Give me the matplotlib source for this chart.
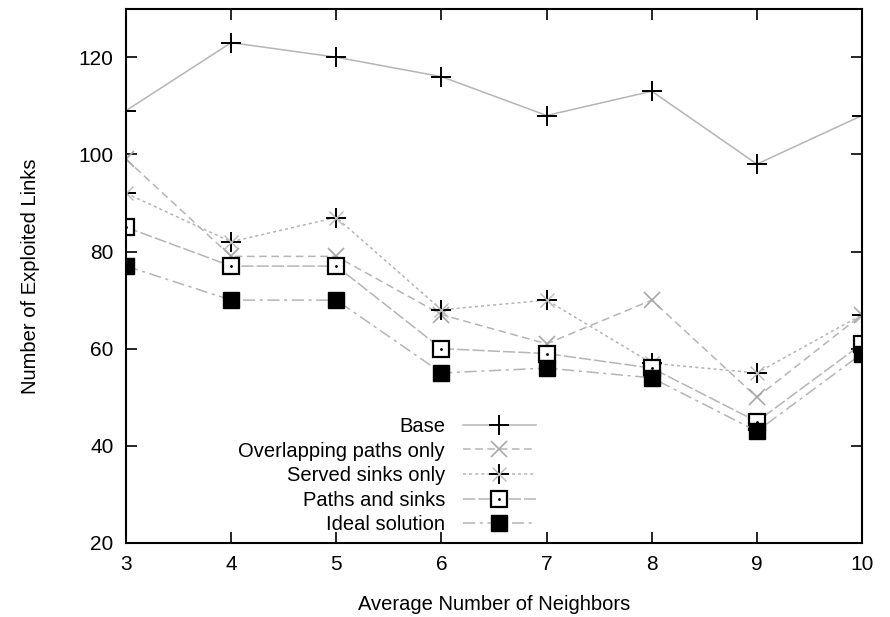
import matplotlib
matplotlib.use('Agg')
import matplotlib.pyplot as plt
from matplotlib.legend_handler import HandlerTuple

plt.rcParams['font.family'] = ['Liberation Sans', 'DejaVu Sans']

# data
neighbors = [3, 4, 5, 6, 7, 8, 9, 10]
base = [109, 123, 120, 116, 108, 113, 98, 108]
overlapping = [99, 79, 79, 67, 61, 70, 50, 67]
served = [92, 82, 87, 68, 70, 57, 55, 67]
paths_sinks = [85, 77, 77, 60, 59, 56, 45, 61]
ideal = [77, 70, 70, 55, 56, 54, 43, 59]

fig = plt.figure(figsize=(8.9, 6.17), dpi=100)
ax = fig.add_axes([0.1416, 0.12, 0.827, 0.866])

lc = '#b5b5b5'
h1, = ax.plot(neighbors, base, color=lc, lw=1.1, ls='-',
              marker='+', ms=15, mec='black', mew=1.4, label='Base')
h2, = ax.plot(neighbors, overlapping, color=lc, lw=1.1, ls=(0, (5, 3)),
              marker='x', ms=11, mec='#a8a8a8', mew=1.2, label='Overlapping paths only')
h3, = ax.plot(neighbors, served, color=lc, lw=1.1, ls=(0, (2, 2)),
              marker='+', ms=15, mec='black', mew=1.4, label='Served sinks only')
d3, = ax.plot(neighbors, served, ls='none', marker='x', ms=10, mec='#bbbbbb', mew=1.0)
h4, = ax.plot(neighbors, paths_sinks, color=lc, lw=1.1, ls=(0, (8, 2)),
              marker='s', ms=12, mfc='white', mec='black', mew=1.6, label='Paths and sinks')
d4, = ax.plot(neighbors, paths_sinks, ls='none', marker='.', ms=2, color='black')
h5, = ax.plot(neighbors, ideal, color=lc, lw=1.1, ls=(0, (8, 3, 2, 3)),
              marker='s', ms=12, mfc='black', mec='black', mew=1.0, label='Ideal solution')

ax.set_xlim(3, 10)
ax.set_ylim(20, 130)
ax.set_xticks(neighbors)
ax.set_yticks([20, 40, 60, 80, 100, 120])
ax.tick_params(direction='in', length=8, width=1.2, labelsize=15,
               top=True, right=True, pad=9)
for s in ax.spines.values():
    s.set_linewidth(1.5)

ax.set_xlabel('Average Number of Neighbors', fontsize=14.5, labelpad=15)
ax.set_ylabel('Number of Exploited Links', fontsize=14.5, labelpad=28)

leg = ax.legend([h1, h2, (h3, d3), (h4, d4), h5],
                ['Base', 'Overlapping paths only', 'Served sinks only',
                 'Paths and sinks', 'Ideal solution'],
                handler_map={tuple: HandlerTuple(ndivide=1)},
                loc='lower left', bbox_to_anchor=(0.128, -0.018),
                frameon=False, markerfirst=False, fontsize=14.5,
                handlelength=3.6, handletextpad=0.9, labelspacing=0.28,
                numpoints=1)
for t in leg.get_texts():
    t.set_ha('right')
leg._legend_box.align = 'right'

fig.savefig('out.png', dpi=100)
